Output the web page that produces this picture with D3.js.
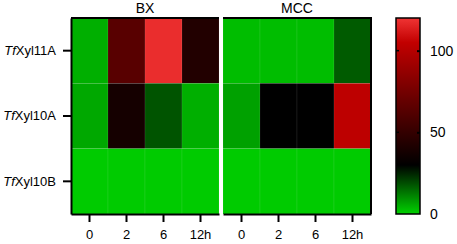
<!DOCTYPE html>
<html lang="en">
<head>
  <meta charset="UTF-8">
  <title>heatmap</title>
  <style>
body { margin: 0; background: #fff; }
svg { display: block; font-family: "Liberation Sans", Arial, sans-serif; }
.axis path, .axis line { stroke: #000; stroke-width: 2; }
.axis text { fill: #000; font-size: 13px; }
  </style>
</head>
<body>
<div id="wrapper"></div>
<script src="https://cdnjs.cloudflare.com/ajax/libs/d3/7.8.5/d3.min.js"></script>
<script>

// DATA
const genes = ["TfXyl11A", "TfXyl10A", "TfXyl10B"]
const times = ["0", "2", "6", "12h"]
const panels = ["BX", "MCC"]
const bxValues = [
  [5, 64, 118, 43],
  [6, 38, 18, 5],
  [1, 1, 1, 1]
]
const mccValues = [
  [3, 3, 3, 17],
  [7, 30, 30, 103],
  [1, 1, 1, 1]
]
const colorTicks = [0, 50, 100]

// dimensions
const dimensions = {
  width: 457,
  height: 244,
  top: 18,
  bottom: 214,
  panelX: [[71, 219], [223, 371]],
  legendX: [396, 420]
}

const wrapper = d3.select("#wrapper")
  .append("svg")
  .attr("width", dimensions.width)
  .attr("height", dimensions.height)

// scales
const yScale = d3.scaleBand()
  .domain(genes)
  .range([dimensions.top, dimensions.bottom])

const colorScale = d3.scaleLinear()
  .domain([0, 30, 105, 120])
  .range(["#00d200", "#000000", "#c20000", "#f03434"])
  .clamp(true)

const panelData = [bxValues, mccValues]

panels.forEach(function(name, p) {
  const xScale = d3.scaleBand()
    .domain(times)
    .range(dimensions.panelX[p])

  const g = wrapper.append("g")

  const cells = []
  panelData[p].forEach(function(row, i) {
    row.forEach(function(v, j) {
      cells.push({gene: genes[i], time: times[j], value: v})
    })
  })

  g.selectAll("rect.cell")
    .data(cells)
    .join("rect")
    .attr("class", "cell")
    .attr("x", d => xScale(d.time))
    .attr("y", d => yScale(d.gene))
    .attr("width", xScale.bandwidth())
    .attr("height", yScale.bandwidth())
    .attr("fill", d => colorScale(d.value))
    .attr("stroke", "rgba(255,255,255,0.12)")
    .attr("stroke-width", 0.6)

  // top border
  g.append("line")
    .attr("x1", dimensions.panelX[p][0])
    .attr("x2", dimensions.panelX[p][1] + (p == 1 ? 1 : 0))
    .attr("y1", dimensions.top)
    .attr("y2", dimensions.top)
    .attr("stroke", "#000")
    .attr("stroke-width", 2)

  if (p == 1) {
    g.append("line")
      .attr("x1", dimensions.panelX[p][1])
      .attr("x2", dimensions.panelX[p][1])
      .attr("y1", dimensions.top)
      .attr("y2", dimensions.bottom)
      .attr("stroke", "#000")
      .attr("stroke-width", 2)
  }

  // x axis
  g.append("g")
    .attr("class", "axis")
    .attr("transform", `translate(0,${dimensions.bottom})`)
    .call(d3.axisBottom(xScale).tickSize(8).tickSizeOuter(0).tickPadding(8))

  // title
  g.append("text")
    .attr("x", (dimensions.panelX[p][0] + dimensions.panelX[p][1]) / 2)
    .attr("y", 13)
    .attr("text-anchor", "middle")
    .style("font-size", "14px")
    .text(name)
})

// y axis
const yAxis = wrapper.append("g")
  .attr("class", "axis")
  .attr("transform", `translate(${dimensions.panelX[0][0]},0)`)
  .call(d3.axisLeft(yScale).tickSize(8).tickSizeOuter(0).tickPadding(7))

yAxis.selectAll("text")
  .text(null)
  .each(function(d) {
    const t = d3.select(this)
    t.append("tspan").style("font-style", "italic").text(d.slice(0, 2))
    t.append("tspan").text(d.slice(2))
  })

// color legend
const legendScale = d3.scaleLinear()
  .domain([0, 120])
  .range([dimensions.bottom, dimensions.top])

const defs = wrapper.append("defs")
const grad = defs.append("linearGradient")
  .attr("id", "cgrad")
  .attr("x1", 0).attr("x2", 0)
  .attr("y1", 1).attr("y2", 0)
grad.selectAll("stop")
  .data(d3.range(0, 121, 5))
  .join("stop")
  .attr("offset", d => d / 120)
  .attr("stop-color", d => colorScale(d))

wrapper.append("rect")
  .attr("x", dimensions.legendX[0])
  .attr("y", legendScale(120))
  .attr("width", dimensions.legendX[1] - dimensions.legendX[0])
  .attr("height", legendScale(0) - legendScale(120))
  .attr("fill", "url(#cgrad)")
  .attr("stroke", "#000")
  .attr("stroke-width", 1.5)

const legendAxis = wrapper.append("g")
  .attr("class", "axis")
  .attr("transform", `translate(${dimensions.legendX[1]},0)`)
  .call(d3.axisRight(legendScale).tickValues(colorTicks).tickSize(-3).tickSizeOuter(0).tickPadding(10))
legendAxis.select(".domain").remove()
legendAxis.selectAll("line").attr("stroke-width", 1.5)
legendAxis.selectAll("text").style("font-size", "14px")

// ticks on the left side of the bar
wrapper.append("g")
  .selectAll("line")
  .data(colorTicks.filter(d => d > 0))
  .join("line")
  .attr("x1", dimensions.legendX[0])
  .attr("x2", dimensions.legendX[0] + 3)
  .attr("y1", d => legendScale(d))
  .attr("y2", d => legendScale(d))
  .attr("stroke", "#000")
  .attr("stroke-width", 1.5)
legendAxis.selectAll(".tick").filter(d => d == 0).select("line").remove()

</script>
</body>
</html>
